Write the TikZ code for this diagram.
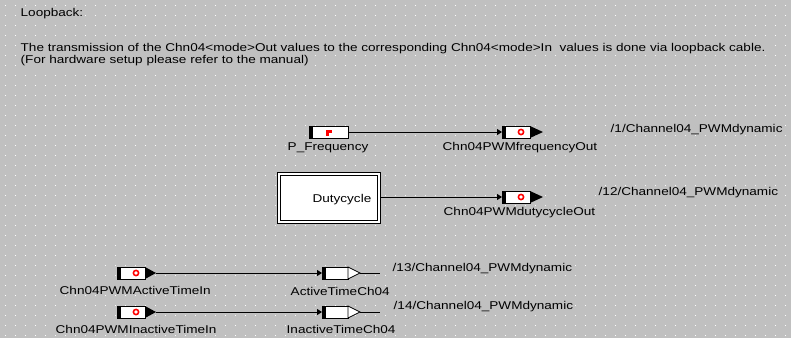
\documentclass[tikz,border=0pt]{standalone}
\usepackage{fontspec}
\setmainfont[FakeStretch=1.2]{Liberation Sans}
\usetikzlibrary{arrows.meta}
\definecolor{bg}{RGB}{192,192,192}
\begin{document}
\begin{tikzpicture}[x=1pt,y=-1pt,
  lbl/.style={fill=bg, inner sep=0.5pt, text=black, font=\fontsize{11.3}{13}\selectfont},
  box/.style={draw, line width=1pt, fill=white, minimum width=28pt, minimum height=12pt, inner sep=0pt, outer sep=0pt, anchor=west},
  barbox/.style={box, path picture={\fill[black] (path picture bounding box.north west) rectangle ([xshift=4pt]path picture bounding box.south west);}},
  portbox/.style={box, path picture={\fill[black] (path picture bounding box.north west) rectangle ([xshift=4pt]path picture bounding box.south west);
     \draw[red, line width=1.6pt] ([xshift=19pt]path picture bounding box.west) circle (2.6pt);}},
  conn/.style={line width=1pt, -{Triangle[length=5pt,width=6pt]}},
  wire/.style={line width=1pt},
  dbox/.style={draw, line width=1pt, fill=white, minimum width=103pt, minimum height=51pt, inner sep=0pt, outer sep=0pt, anchor=north west},
]
\useasboundingbox (0,0) rectangle (791,338);
\fill[bg] (0,0) rectangle (791,338);
\foreach \i in {0,...,78}{
  \foreach \j in {0,...,33}{
    \fill[white] (5+10*\i,5+10*\j) rectangle ++(1,1);
  }
}

% header text
\node[lbl, anchor=base west] (title) at (20,16.5) {Loopback:};
\node[lbl, anchor=base west] (desc1) at (20,51) {The transmission of the Chn04<mode>Out values to the corresponding Chn04<mode>In~ values is done via loopback cable.};
\node[lbl, anchor=base west] (desc2) at (20,63.5) {(For hardware setup please refer to the manual)};

% P_Frequency source
\node[barbox, minimum width=39pt] (pf) at (309,132) {};
\fill[red] (326,130) rectangle (332,133);
\fill[red] (326,133) rectangle (329,135.5);
\node[lbl, anchor=base west] (pfl) at (287,150) {P\_Frequency};

% frequency out port
\node[portbox] (fout) at (502,132) {};
\fill (fout.north east) -- ([xshift=13pt]fout.east) -- (fout.south east) -- cycle;
\node[lbl, anchor=base west] (foutl) at (442,150) {Chn04PWMfrequencyOut};
\node[lbl, anchor=base west] (fpath) at (610,132) {/1/Channel04\_PWMdynamic};
\draw[conn] (pf.east) -- (fout.west);

% Dutycycle block
\node[dbox] (duty) at (277,172) {};
\draw[line width=1pt] ([shift={(3,3)}]duty.north west) rectangle ([shift={(-3,-3)}]duty.south east);
\node[lbl, fill=white, anchor=base east] (dutyl) at (372,202) {Dutycycle};

% dutycycle out port
\node[portbox] (dout) at (502,197) {};
\fill (dout.north east) -- ([xshift=13pt]dout.east) -- (dout.south east) -- cycle;
\node[lbl, anchor=base west] (doutl) at (443,215) {Chn04PWMdutycycleOut};
\node[lbl, anchor=base west] (dpath) at (598,195) {/12/Channel04\_PWMdynamic};
\draw[conn] (dout.west -| duty.east) -- (dout.west);

% Active time row
\node[portbox] (ain) at (117,273) {};
\fill (ain.north east) -- ([xshift=11pt]ain.east) -- (ain.south east) -- cycle;
\coordinate (aintip) at ([xshift=11pt]ain.east);
\node[lbl, anchor=base west] (ainl) at (59,294) {Chn04PWMActiveTimeIn};
\node[barbox, minimum width=26pt] (asink) at (322,273) {};
\filldraw[fill=white, draw=black, line width=0.8pt] (asink.north east) -- ([xshift=12pt]asink.east) -- (asink.south east) -- cycle;
\coordinate (asinktip) at ([xshift=12pt]asink.east);
\coordinate (asinkend) at ([xshift=32pt]asink.east);
\draw[wire] (asinktip) -- (asinkend);
\node[lbl, anchor=base west] (asinkl) at (290,295) {ActiveTimeCh04};
\node[lbl, anchor=base west] (apath) at (392,271) {/13/Channel04\_PWMdynamic};
\draw[conn] (aintip) -- (asink.west);

% Inactive time row
\node[portbox] (iin) at (117,312) {};
\fill (iin.north east) -- ([xshift=11pt]iin.east) -- (iin.south east) -- cycle;
\coordinate (iintip) at ([xshift=11pt]iin.east);
\node[lbl, anchor=base west] (iinl) at (55,333) {Chn04PWMInactiveTimeIn};
\node[barbox, minimum width=26pt] (isink) at (322,312) {};
\filldraw[fill=white, draw=black, line width=0.8pt] (isink.north east) -- ([xshift=12pt]isink.east) -- (isink.south east) -- cycle;
\coordinate (isinktip) at ([xshift=12pt]isink.east);
\coordinate (isinkend) at ([xshift=32pt]isink.east);
\draw[wire] (isinktip) -- (isinkend);
\node[lbl, anchor=base west] (isinkl) at (286,333) {InactiveTimeCh04};
\node[lbl, anchor=base west] (ipath) at (393,309) {/14/Channel04\_PWMdynamic};
\draw[conn] (iintip) -- (isink.west);
\end{tikzpicture}
\end{document}
